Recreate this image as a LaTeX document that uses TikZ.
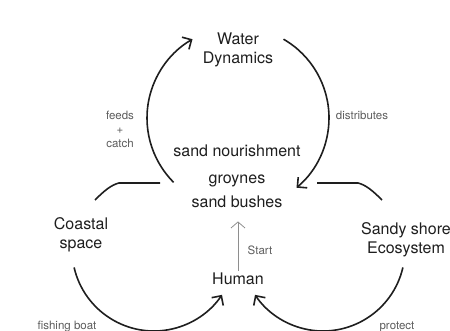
\documentclass[tikz,border=0pt]{standalone}
\usepackage{fontspec}
\setmainfont{TeX Gyre Heros}
\usetikzlibrary{arrows.meta}
\definecolor{ink}{HTML}{1E1E1E}
\definecolor{slate}{HTML}{5C5C5C}
\definecolor{mist}{HTML}{8E8E8E}

\begin{document}
\begin{tikzpicture}[x=1pt,y=1pt,
    big/.style={font=\fontsize{16}{19}\selectfont,color=ink,anchor=base,inner sep=0pt},
    small/.style={font=\fontsize{11.5}{14}\selectfont,color=slate,anchor=base,inner sep=0pt},
    loop/.style={ink,line width=1.6pt},
    tip/.style={-{Straight Barb[length=7pt,width=14pt]}}]
  \useasboundingbox (0,0) rectangle (450,-331);
  % centres of the three loops
  \coordinate (hub) at (238,-118);
  \coordinate (lhub) at (154,-249);
  \coordinate (rhub) at (323,-249);
  % big labels
  \node[big] (water) at (238,-45) {Water};
  \node[big] (dyn) at (238,-64) {Dynamics};
  \node[big] (coast) at (81,-230) {Coastal};
  \node[big] (space) at (81,-249) {space};
  \node[big] (sandy) at (406,-235) {Sandy shore};
  \node[big] (eco) at (406,-254) {Ecosystem};
  \node[big] (human) at (238,-285) {Human};
  \foreach \i/\y/\t in {1/157/sand nourishment,2/184/groynes,3/208/sand bushes}
    \node[big] (core\i) at (237,-\y) {\t};
  % small labels
  \foreach \i/\y/\t in {1/119.5/feeds,2/133.5/+,3/148/catch}
    \node[small] (feed\i) at (120,-\y) {\t};
  \node[small] (dist) at (362,-119.5) {distributes};
  \node[small] (start) at (260,-255) {Start};
  \node[small] (boat) at (67,-329) {fishing boat};
  \node[small] (protect) at (397,-330) {protect};
  % top loop
  \draw[loop,tip] ([shift={(225:91pt)}]hub) arc[start angle=225,end angle=120,radius=91pt];
  \draw[loop,tip] ([shift={(60:91pt)}]hub) arc[start angle=60,end angle=-50,radius=91pt];
  % side loops
  \draw[loop,tip] ([shift={(193:82pt)}]lhub) arc[start angle=193,end angle=326,radius=82pt];
  \draw[loop,tip] ([shift={(-13:82pt)}]rhub) arc[start angle=-13,end angle=-146,radius=82pt];
  \draw[loop] (95,-200) .. controls (104,-191) and (111,-185) .. (119,-183) -- (160,-183);
  \draw[loop] (317,-183) -- (358,-183) .. controls (366,-185) and (373,-191) .. (382,-200);
  % start arrow
  \draw[mist,line width=0.8pt,-{Straight Barb[length=6pt,width=14pt]},shorten <=2.5pt,shorten >=13pt]
    (human.north) -- (human.north |- core3.south);
\end{tikzpicture}
\end{document}
